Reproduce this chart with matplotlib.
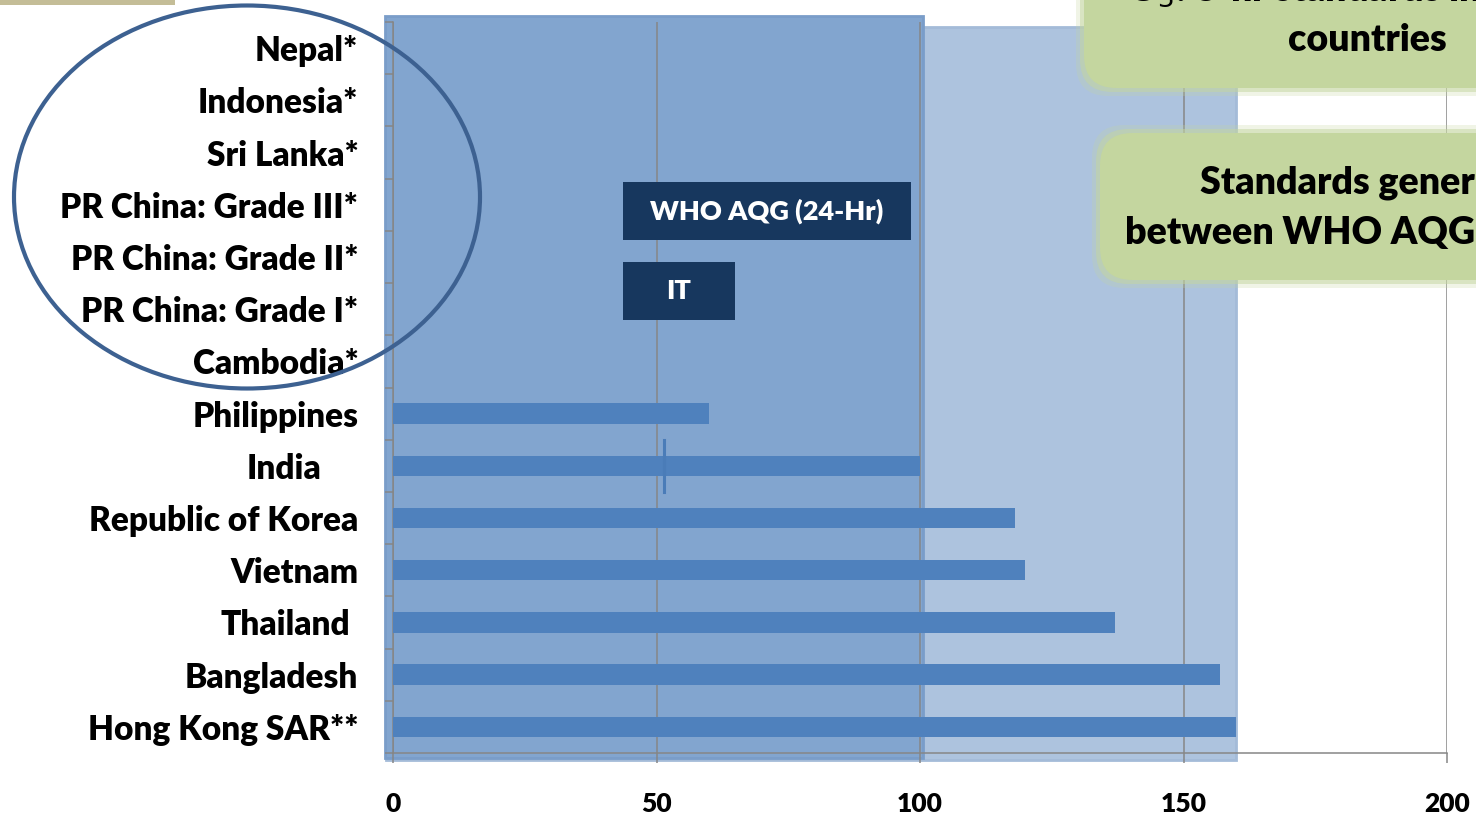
import numpy as np
import matplotlib
matplotlib.use("Agg")
import matplotlib.pyplot as plt
from matplotlib.patches import Rectangle, Ellipse, FancyBboxPatch
from matplotlib.transforms import ScaledTranslation

# ---------------- data ----------------
countries = ["Nepal*", "Indonesia*", "Sri Lanka*", "PR China: Grade III*",
             "PR China: Grade II*", "PR China: Grade I*", "Cambodia*",
             "Philippines", "India", "Republic of Korea", "Vietnam",
             "Thailand", "Bangladesh", "Hong Kong SAR**"]
o3_8hr = [0, 0, 0, 0, 0, 0, 0, 60, 100, 118, 120, 137, 157, 160]
label_shift_px = [0, 0, 0, 0, 0, 0, 0, 0, 37, 0, 0, 8, 0, 0]
x_ticks = [0, 50, 100, 150, 200]
who_aqg_range = (0, 100)       # dark band
standards_range = (0, 160)     # light band
india_marker = 51.4

W, H = 1476, 818
DPI = 100
FONT = "Lato"
WEIGHT = 800

fig = plt.figure(figsize=(W / DPI, H / DPI), dpi=DPI)
fig.patch.set_facecolor("white")

def fx(px):
    return px / W

def fy(py):
    return 1 - py / H

ax = fig.add_axes([fx(393), fy(753), fx(1447) - fx(393), fy(22) - fy(753)])
ax.set_facecolor("none")

n = len(countries)
ypos = np.arange(n)

# shaded bands (data x, axes-fraction y)
tr = ax.get_xaxis_transform()
light = Rectangle((standards_range[0] - 1.3, -0.010), standards_range[1] + 1.3 - standards_range[0], 1.003,
                  transform=tr, facecolor="#adc3de", edgecolor="#a4bbd8", lw=2,
                  clip_on=False, zorder=1)
dark = Rectangle((who_aqg_range[0] - 1.5, -0.007), who_aqg_range[1] + 2.0 - who_aqg_range[0], 1.015,
                 transform=tr, facecolor="#82a5cf", edgecolor="#7a9dc9", lw=2,
                 clip_on=False, zorder=1.5)
ax.add_patch(light)
ax.add_patch(dark)

# bars
ax.barh(ypos, o3_8hr, height=0.39, color="#4f81bd", zorder=3)
ax.plot([india_marker, india_marker], [8 - 0.5, 8 + 0.5], color="#4a7cb8", lw=2.2, zorder=3.5)

ax.set_xlim(0, 200)
ax.set_ylim(n - 0.5, -0.5)

# grid
ax.set_xticks(x_ticks)
ax.grid(axis="x", color="#868686", lw=1.1, zorder=2)
ax.set_axisbelow(False)
for s in ["top", "right"]:
    ax.spines[s].set_visible(False)
for s in ["left", "bottom"]:
    ax.spines[s].set_color("#868686")
    ax.spines[s].set_linewidth(1.1)
    ax.spines[s].set_zorder(2.5)

ax.set_xticklabels([str(v) for v in x_ticks], fontfamily=FONT, fontweight=WEIGHT,
                   fontsize=19, color="black")
ax.tick_params(axis="x", length=7, width=1.1, color="#868686", pad=21)

ax.set_yticks(ypos)
ax.set_yticklabels(countries, fontfamily=FONT, fontweight=WEIGHT, fontsize=24, color="black")
ax.set_yticks(np.arange(n + 1) - 0.5, minor=True)
ax.tick_params(axis="y", which="major", length=0, pad=25)
ax.tick_params(axis="y", which="minor", length=6, width=1.1, color="#868686")

for lab, sh in zip(ax.get_yticklabels(), label_shift_px):
    if sh:
        lab.set_transform(lab.get_transform() + ScaledTranslation(-sh / DPI, 0, fig.dpi_scale_trans))

# ---------------- annotations ----------------
# tan strip top-left
fig.add_artist(Rectangle((0, fy(5)), fx(175), fy(0) - fy(5), transform=fig.transFigure,
                         facecolor="#c4bd97", edgecolor="none", zorder=5))

# ellipse around missing countries
fig.add_artist(Ellipse((fx(247), fy(197)), fx(466), 383 / H, transform=fig.transFigure,
                       facecolor="none", edgecolor="#3d6191", lw=3, zorder=6))

# dark labels
def dark_box(x0, y0, x1, y1, text):
    fig.add_artist(Rectangle((fx(x0), fy(y1)), fx(x1 - x0), (y1 - y0) / H,
                             transform=fig.transFigure, facecolor="#17375e",
                             edgecolor="none", zorder=6))
    fig.text(fx((x0 + x1) / 2), fy((y0 + y1) / 2), text, color="white",
             fontfamily=FONT, fontweight=WEIGHT, fontsize=19.5,
             ha="center", va="center", zorder=7)

dark_box(623, 182, 911, 240, "WHO AQG (24-Hr)")
dark_box(623, 262, 735, 320, "IT")

# green callouts with soft edges
def green_box(x0, y0, x1, y1):
    for grow, alpha in [(8, 0.25), (4, 0.5), (0, 1.0)]:
        fig.add_artist(FancyBboxPatch((fx(x0 - grow), fy(y1 + grow)), fx(x1 - x0 + 2 * grow),
                                      (y1 - y0 + 2 * grow) / H,
                                      boxstyle="round,pad=0,rounding_size=0.022",
                                      transform=fig.transFigure, facecolor="#c4d69f",
                                      edgecolor="none", alpha=alpha, zorder=8,
                                      mutation_aspect=W / H))

green_box(1084, -40, 1560, 88)
green_box(1100, 133, 1560, 280)

GT = dict(fontfamily=FONT, fontweight=WEIGHT, fontsize=27, zorder=9)
fig.text(fx(1127), fy(-10), "O$_3$: 8-hr standards in", ha="left", va="center", **GT)
fig.text(fx(1367), fy(40), "countries", ha="center", va="center", **GT)
fig.text(fx(1475), fy(183), "Standards gener", ha="right", va="center", **GT)
fig.text(fx(1475), fy(233), "between WHO AQG", ha="right", va="center", **GT)

fig.savefig("out.png", dpi=DPI)
